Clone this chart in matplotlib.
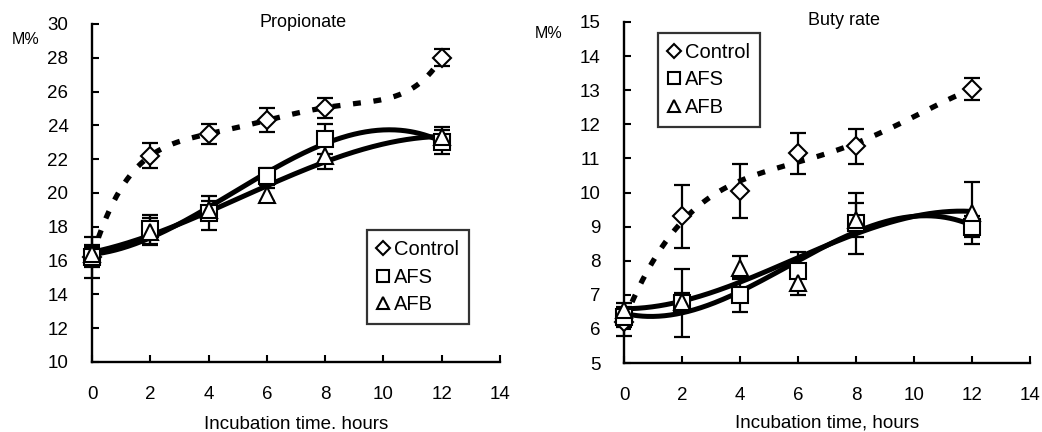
import numpy as np
import matplotlib
matplotlib.use("Agg")
import matplotlib.pyplot as plt
from matplotlib.lines import Line2D

plt.rcParams['font.family'] = ['Liberation Sans', 'DejaVu Sans']

hours = [0, 2, 4, 6, 8, 12]
series_names = ["Control", "AFS", "AFB"]

# Propionate (M%)
prop_control = [16.2, 22.2, 23.5, 24.3, 25.05, 28.0]
prop_control_err = [1.2, 0.75, 0.6, 0.7, 0.6, 0.5]
prop_afs = [16.2, 17.85, 18.8, 21.0, 23.2, 23.0]
prop_afs_err = [0.6, 0.85, 1.0, 0.5, 0.9, 0.7]
prop_afb = [16.4, 17.7, 19.0, 19.9, 22.2, 23.3]
prop_afb_err = [0.5, 0.8, 0.5, 0.4, 0.8, 0.6]

# Butyrate (M%)
but_control = [6.2, 9.3, 10.05, 11.15, 11.35, 13.03]
but_control_err = [0.4, 0.93, 0.8, 0.6, 0.5, 0.33]
but_afs = [6.35, 6.75, 7.0, 7.7, 9.1, 9.0]
but_afs_err = [0.3, 1.0, 0.5, 0.55, 0.9, 0.3]
but_afb = [6.55, 6.8, 7.8, 7.35, 9.2, 9.4]
but_afb_err = [0.2, 0.25, 0.35, 0.35, 0.5, 0.9]

prop_degree = {"Control": 5, "AFS": 3, "AFB": 3}
but_degree = {"Control": 4, "AFS": 3, "AFB": 3}

fig = plt.figure(figsize=(10.42, 4.32), dpi=100)
ax1 = fig.add_axes([92/1042, 1-362/432, 408/1042, 338/432])
ax2 = fig.add_axes([624/1042, 1-363/432, 406/1042, 341/432])

markers = {"Control": "D", "AFS": "s", "AFB": "^"}
msize = {"Control": 9.5, "AFS": 12, "AFB": 12}


def draw(ax, data, degrees, ylim, yticks, title, title_x, xlabel, xlabel_y,
         leg_anchor):
    x = np.array(hours, dtype=float)
    xs = np.linspace(0.0, 12.0, 300)
    for name, (vals, errs) in data.items():
        vals = np.array(vals)
        coef = np.polyfit(x, vals, degrees[name])
        yfit = np.polyval(coef, xs)
        if name == "Control":
            ax.plot(xs, yfit, color='black', lw=3.8,
                    linestyle=(0, (1.5, 2.4)), zorder=2, clip_on=False)
        else:
            ax.plot(xs, yfit, color='black', lw=3.6, solid_capstyle='round',
                    zorder=2, clip_on=False)
        ax.errorbar(x, vals, yerr=errs, fmt='none', ecolor='black',
                    elinewidth=1.6, capsize=6, capthick=1.6, zorder=3,
                    clip_on=False)
        ax.plot(x, vals, linestyle='none', marker=markers[name],
                markersize=msize[name], markerfacecolor='white',
                markeredgecolor='black', markeredgewidth=1.5, zorder=4,
                clip_on=False)
    ax.set_xlim(0, 14)
    ax.set_ylim(*ylim)
    ax.set_xticks(range(0, 15, 2))
    ax.set_yticks(yticks)
    for s in ['top', 'right']:
        ax.spines[s].set_visible(False)
    for s in ['left', 'bottom']:
        ax.spines[s].set_linewidth(1.7)
    ax.tick_params(axis='x', direction='in', length=5, width=1.5,
                   pad=17, labelsize=13.5)
    ax.tick_params(axis='y', direction='in', length=5, width=1.5,
                   pad=17, labelsize=13.5)
    ax.text(title_x, 1.005, title, transform=ax.transAxes, ha='center',
            va='center', fontsize=13)
    ax.set_xlabel(xlabel, fontsize=13.5)
    ax.xaxis.set_label_coords(0.5, xlabel_y)
    handles = [Line2D([], [], linestyle='none', marker=markers[n],
                      markersize=msize[n] * 0.72, markerfacecolor='white',
                      markeredgecolor='black', markeredgewidth=1.5)
               for n in series_names]
    leg = ax.legend(handles, series_names, loc='upper left',
                    bbox_to_anchor=leg_anchor, frameon=True, fancybox=False,
                    fontsize=14.5, handlelength=0.6, handletextpad=0.25,
                    labelspacing=0.42, borderpad=0.5, borderaxespad=0)
    leg.get_frame().set_edgecolor('black')
    leg.get_frame().set_linewidth(1.6)


draw(ax1,
     {"Control": (prop_control, prop_control_err),
      "AFS": (prop_afs, prop_afs_err),
      "AFB": (prop_afb, prop_afb_err)},
     prop_degree, (10, 30), range(10, 31, 2), "Propionate", 0.517,
     "Incubation time. hours", -0.16, (0.674, 0.39))

draw(ax2,
     {"Control": (but_control, but_control_err),
      "AFS": (but_afs, but_afs_err),
      "AFB": (but_afb, but_afb_err)},
     but_degree, (5, 15), range(5, 16, 1), "Buty rate", 0.542,
     "Incubation time, hours", -0.15, (0.084, 0.968))

fig.text(26/1042, 1-40/432, "M%", ha='center', va='center', fontsize=11.5)
fig.text(549/1042, 1-33/432, "M%", ha='center', va='center', fontsize=11.5)

fig.savefig("out.png", dpi=100)
